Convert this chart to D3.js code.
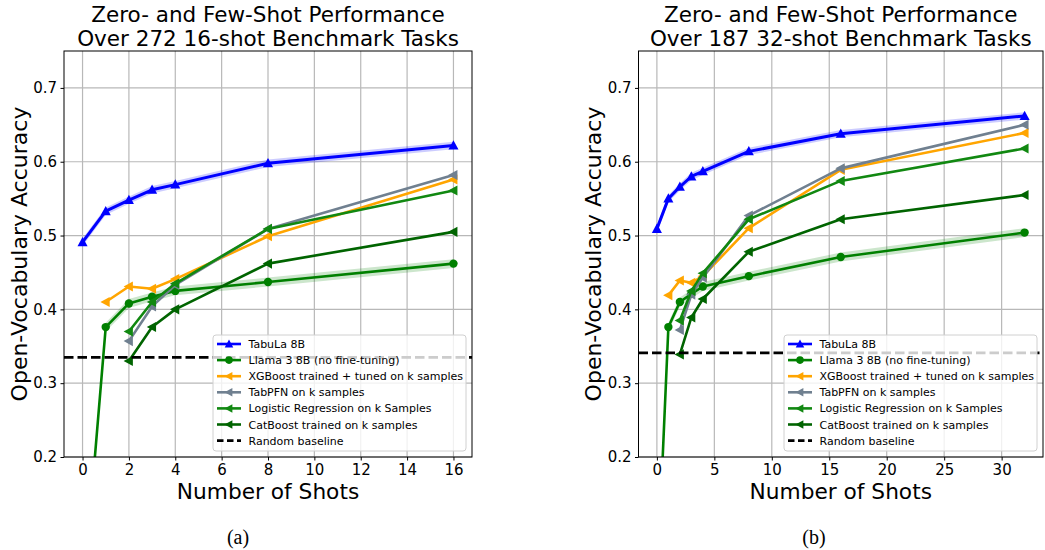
<!DOCTYPE html>
<html>
<head>
<meta charset="utf-8">
<script src="https://cdn.jsdelivr.net/npm/d3@7"></script>
<style>
  html, body { margin: 0; padding: 0; background: #fff; }
  svg { display: block; font-family: "DejaVu Sans", sans-serif; }
</style>
</head>
<body>
<svg id="chart" width="1045" height="550"></svg>
<script>
// ---------- Data ----------
// Panel (a): 272 16-shot tasks
const shotsA      = [0, 1, 2, 3, 4, 8, 16];
const tabulaA     = [0.491, 0.533, 0.548, 0.562, 0.569, 0.598, 0.622];
const llamaA      = [0.000, 0.376, 0.408, 0.417, 0.425, 0.437, 0.462];
const xgbShotsA   = [1, 2, 3, 4, 8, 16];
const xgbA        = [0.410, 0.431, 0.428, 0.441, 0.499, 0.576];
const baseShotsA  = [2, 3, 4, 8, 16];
const tabpfnA     = [0.357, 0.404, 0.433, 0.509, 0.582];
const logregA     = [0.370, 0.410, 0.435, 0.509, 0.561];
const catboostA   = [0.330, 0.376, 0.400, 0.462, 0.505];
const randomA     = 0.335;
const xTicksA     = [0, 2, 4, 6, 8, 10, 12, 14, 16];

// Panel (b): 187 32-shot tasks
const shotsB      = [0, 1, 2, 3, 4, 8, 16, 32];
const tabulaB     = [0.509, 0.550, 0.566, 0.580, 0.587, 0.614, 0.638, 0.662];
const llamaB      = [0.020, 0.376, 0.410, 0.421, 0.431, 0.445, 0.471, 0.504];
const xgbShotsB   = [1, 2, 3, 4, 8, 16, 32];
const xgbB        = [0.419, 0.439, 0.436, 0.445, 0.510, 0.589, 0.639];
const baseShotsB  = [2, 3, 4, 8, 16, 32];
const tabpfnB     = [0.372, 0.420, 0.443, 0.527, 0.591, 0.650];
const logregB     = [0.385, 0.425, 0.449, 0.522, 0.574, 0.618];
const catboostB   = [0.339, 0.389, 0.414, 0.478, 0.522, 0.555];
const randomB     = 0.341;
const xTicksB     = [0, 5, 10, 15, 20, 25, 30];

const yTicks      = [0.2, 0.3, 0.4, 0.5, 0.6, 0.7];
const bandTabula  = 0.005;
const bandLlama   = 0.006;

const seriesNames = ["TabuLa 8B", "Llama 3 8B (no fine-tuning)", "XGBoost trained + tuned on k samples",
                     "TabPFN on k samples", "Logistic Regression on k Samples", "CatBoost trained on k samples",
                     "Random baseline"];
const seriesColors = ["#0000ff", "#008000", "#ffa500", "#708090", "#118811", "#006400", "#000000"];
const seriesMarkers = ["up", "circle", "left", "left", "left", "left", null];

const titleLines = {
  a: ["Zero- and Few-Shot Performance", "Over 272 16-shot Benchmark Tasks"],
  b: ["Zero- and Few-Shot Performance", "Over 187 32-shot Benchmark Tasks"]
};

// ---------- Drawing ----------
const svg = d3.select("#chart");

function markerPath(type, size) {
  const s = size;
  if (type === "up") return `M0,${-s}L${s*0.95},${s*0.75}L${-s*0.95},${s*0.75}Z`;
  if (type === "left") return `M${-s},0L${s*0.75},${-s*0.95}L${s*0.75},${s*0.95}Z`;
  return null;
}

function drawMarker(g, type, x, y, color, size) {
  if (type === "circle") {
    g.append("circle").attr("cx", x).attr("cy", y).attr("r", size).attr("fill", color);
  } else if (type) {
    g.append("path").attr("d", markerPath(type, size)).attr("transform", `translate(${x},${y})`).attr("fill", color);
  }
}

function drawPanel(opt) {
  const { id, left, right, top, bottom, xDomain, xTicks, series, random, titles, ylabelX, caption, captionX } = opt;
  const x = d3.scaleLinear().domain(xDomain).range([left, right]);
  const y = d3.scaleLinear().domain([0.2, 0.75]).range([bottom, top]);

  const g = svg.append("g");
  const clipId = "clip-" + id;
  g.append("clipPath").attr("id", clipId)
    .append("rect").attr("x", left).attr("y", top).attr("width", right - left).attr("height", bottom - top);

  // grid
  const grid = g.append("g");
  xTicks.forEach(t => grid.append("line").attr("x1", x(t)).attr("x2", x(t)).attr("y1", top).attr("y2", bottom)
    .attr("stroke", "#b8b8b8").attr("stroke-width", 1.2));
  yTicks.forEach(t => grid.append("line").attr("x1", left).attr("x2", right).attr("y1", y(t)).attr("y2", y(t))
    .attr("stroke", "#b8b8b8").attr("stroke-width", 1.2));

  const plot = g.append("g").attr("clip-path", `url(#${clipId})`);
  const lineGen = d3.line().x(d => x(d[0])).y(d => y(d[1]));
  const areaGen = d3.area().x(d => x(d[0])).y0(d => y(d[1] - d[2])).y1(d => y(d[1] + d[2]));

  series.forEach((s, i) => {
    const pts = s.xs.map((xv, k) => [xv, s.ys[k], s.band || 0]);
    if (s.band) {
      plot.append("path").attr("d", areaGen(pts)).attr("fill", seriesColors[i]).attr("opacity", 0.2);
    }
    plot.append("path").attr("d", lineGen(pts)).attr("fill", "none")
      .attr("stroke", seriesColors[i]).attr("stroke-width", i === 0 ? 3 : 2.6)
      .attr("stroke-linejoin", "round");
    const mg = plot.append("g");
    pts.forEach(p => drawMarker(mg, seriesMarkers[i], x(p[0]), y(p[1]), seriesColors[i], seriesMarkers[i] === "circle" ? 4.2 : 5.3));
  });

  // random baseline
  plot.append("line").attr("x1", left).attr("x2", right).attr("y1", y(random)).attr("y2", y(random))
    .attr("stroke", "#000").attr("stroke-width", 2.6).attr("stroke-dasharray", "9.5,4");

  // frame
  g.append("rect").attr("x", left).attr("y", top).attr("width", right - left).attr("height", bottom - top)
    .attr("fill", "none").attr("stroke", "#000").attr("stroke-width", 1);

  // axes
  const xAxis = d3.axisBottom(x).tickValues(xTicks).tickFormat(d3.format("d")).tickSizeOuter(0).tickSize(3.5).tickPadding(3.5);
  const gx = g.append("g").attr("transform", `translate(0,${bottom})`).call(xAxis);
  const yAxis = d3.axisLeft(y).tickValues(yTicks).tickFormat(d3.format(".1f")).tickSizeOuter(0).tickSize(3.5).tickPadding(3.5);
  const gy = g.append("g").attr("transform", `translate(${left},0)`).call(yAxis);
  [gx, gy].forEach(a => {
    a.select(".domain").remove();
    a.selectAll("text").attr("font-family", "DejaVu Sans").attr("font-size", 15).attr("fill", "#000");
    a.selectAll("line").attr("stroke", "#000");
  });

  // legend
  const lw = 253, lh = 116;
  const lx = right - 6 - lw, ly = bottom - 6 - lh;
  const leg = g.append("g");
  leg.append("rect").attr("x", lx).attr("y", ly).attr("width", lw).attr("height", lh)
    .attr("rx", 3).attr("fill", "#fff").attr("fill-opacity", 0.8).attr("stroke", "#d0d0d0").attr("stroke-width", 1);
  seriesNames.forEach((name, i) => {
    const ry = ly + 9 + i * 16.1;
    const h1 = lx + 4, h2 = lx + 28;
    leg.append("line").attr("x1", h1).attr("x2", h2).attr("y1", ry).attr("y2", ry)
      .attr("stroke", seriesColors[i]).attr("stroke-width", 2.6)
      .attr("stroke-dasharray", i === 6 ? "6.5,3.5" : null);
    if (seriesMarkers[i]) drawMarker(leg, seriesMarkers[i], (h1 + h2) / 2, ry, seriesColors[i], seriesMarkers[i] === "circle" ? 3.8 : 4.5);
    leg.append("text").attr("x", lx + 35.5).attr("y", ry + 4).attr("font-size", 11).attr("fill", "#000").text(name);
  });

  // titles
  titles.forEach((t, i) => {
    g.append("text").attr("x", (left + right) / 2).attr("y", 22 + i * 23.5).attr("text-anchor", "middle")
      .attr("font-size", 21.5).attr("fill", "#000").text(t);
  });
  g.append("text").attr("x", (left + right) / 2).attr("y", 499).attr("text-anchor", "middle")
    .attr("font-size", 21.7).attr("fill", "#000").text("Number of Shots");
  g.append("text").attr("transform", `translate(${ylabelX},${(top + bottom) / 2}) rotate(-90)`)
    .attr("text-anchor", "middle").attr("font-size", 22).attr("fill", "#000").text("Open-Vocabulary Accuracy");
  g.append("text").attr("x", captionX).attr("y", 544).attr("text-anchor", "middle")
    .attr("font-family", "Liberation Serif, serif").attr("font-size", 20).attr("fill", "#000").text(caption);
}

drawPanel({
  id: "a", left: 64, right: 472, top: 51, bottom: 457, xDomain: [-0.8, 16.8], xTicks: xTicksA,
  series: [
    { xs: shotsA, ys: tabulaA, band: bandTabula },
    { xs: shotsA, ys: llamaA, band: bandLlama },
    { xs: xgbShotsA, ys: xgbA },
    { xs: baseShotsA, ys: tabpfnA },
    { xs: baseShotsA, ys: logregA },
    { xs: baseShotsA, ys: catboostA }
  ],
  random: randomA, titles: titleLines.a, ylabelX: 27, caption: "(a)", captionX: 238
});

drawPanel({
  id: "b", left: 638.5, right: 1043, top: 51, bottom: 457, xDomain: [-1.6, 33.6], xTicks: xTicksB,
  series: [
    { xs: shotsB, ys: tabulaB, band: bandTabula },
    { xs: shotsB, ys: llamaB, band: bandLlama },
    { xs: xgbShotsB, ys: xgbB },
    { xs: baseShotsB, ys: tabpfnB },
    { xs: baseShotsB, ys: logregB },
    { xs: baseShotsB, ys: catboostB }
  ],
  random: randomB, titles: titleLines.b, ylabelX: 601, caption: "(b)", captionX: 814
});
</script>
</body>
</html>
